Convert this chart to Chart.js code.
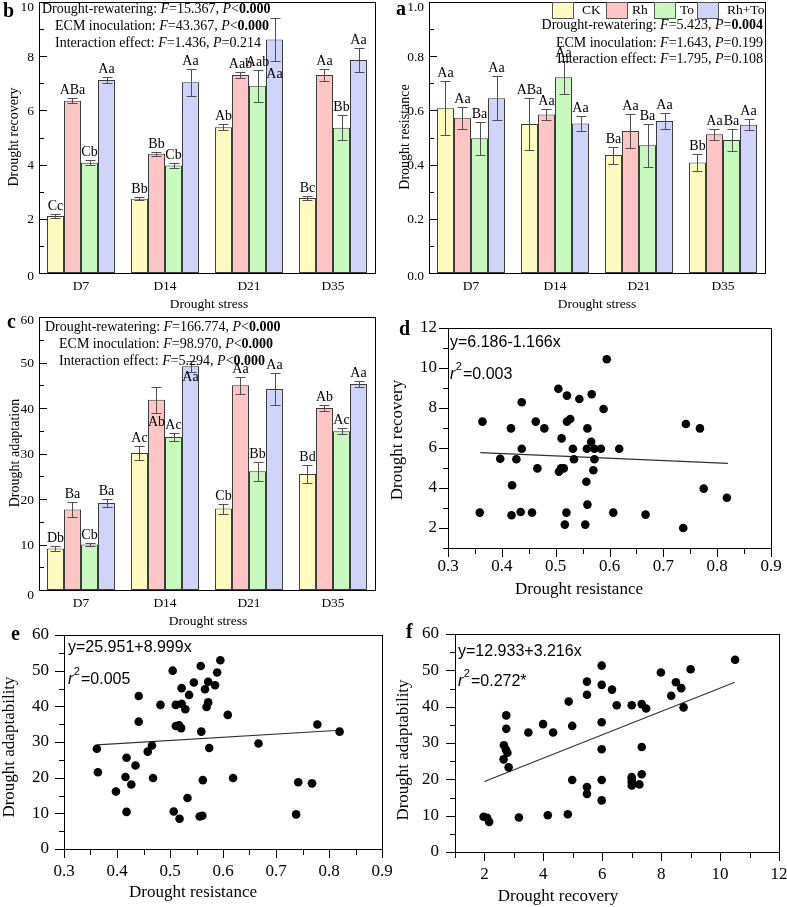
<!DOCTYPE html>
<html><head><meta charset="utf-8">
<script src="https://cdn.jsdelivr.net/npm/chart.js@4.4.1/dist/chart.umd.min.js"></script>
<style>html,body{margin:0;padding:0;background:#fff;}body{width:787px;height:907px;position:relative;overflow:hidden;}canvas{position:absolute;left:0;top:0;}</style>
</head><body>
<script>
// ---------------- DATA ----------------
const categories = ['D7','D14','D21','D35'];
const treatments = ['CK','Rh','To','Rh+To'];

// Panel b: drought recovery (means, SE, letters) per treatment across D7..D35
const recCK   = [2.10, 2.74, 5.38, 2.77];
const recRh   = [6.36, 4.40, 7.31, 7.31];
const recTo   = [4.07, 3.97, 6.91, 5.36];
const recRhTo = [7.12, 7.04, 8.62, 7.86];
const recErrCK   = [0.07, 0.05, 0.12, 0.06];
const recErrRh   = [0.08, 0.08, 0.10, 0.21];
const recErrTo   = [0.10, 0.10, 0.59, 0.47];
const recErrRhTo = [0.12, 0.50, 0.80, 0.43];
const recLetCK   = ['Cc','Bb','Ab','Bc'];
const recLetRh   = ['ABa','Bb','Aab','Aa'];
const recLetTo   = ['Cb','Cb','Aab','Bb'];
const recLetRhTo = ['Aa','Aa','Aa','Aa'];
const recYTicks  = ['0','2','4','6','8','10'];

// Panel a: drought resistance
const resCK   = [0.608, 0.550, 0.435, 0.408];
const resRh   = [0.573, 0.585, 0.524, 0.512];
const resTo   = [0.497, 0.722, 0.471, 0.491];
const resRhTo = [0.645, 0.552, 0.561, 0.547];
const resErrCK   = [0.100, 0.097, 0.031, 0.030];
const resErrRh   = [0.040, 0.022, 0.062, 0.020];
const resErrTo   = [0.060, 0.062, 0.080, 0.040];
const resErrRhTo = [0.081, 0.029, 0.031, 0.020];
const resLetCK   = ['Aa','ABa','Ba','Bb'];
const resLetRh   = ['Aa','Aa','Aa','Aa'];
const resLetTo   = ['Ba','Aa','Ba','Ba'];
const resLetRhTo = ['Aa','Aa','Aa','Aa'];
const resYTicks  = ['0.0','0.2','0.4','0.6','0.8','1.0'];

// Panel c: drought adaptation
const adaCK   = [9.1, 30.1, 17.9, 25.5];
const adaRh   = [17.7, 41.8, 45.0, 40.0];
const adaTo   = [10.0, 33.6, 26.1, 34.9];
const adaRhTo = [19.1, 49.2, 44.2, 45.3];
const adaErrCK   = [0.5, 1.6, 1.1, 1.9];
const adaErrRh   = [1.6, 2.8, 1.9, 0.6];
const adaErrTo   = [0.4, 0.9, 2.1, 0.6];
const adaErrRhTo = [0.8, 1.2, 3.5, 0.7];
const adaLetCK   = ['Db','Ac','Cb','Bd'];
const adaLetRh   = ['Ba','Ab','Aa','Ab'];
const adaLetTo   = ['Cb','Ac','Bb','Ac'];
const adaLetRhTo = ['Ba','Aa','Aa','Aa'];
const adaYTicks  = ['0','10','20','30','40','50','60'];

// Panel d: resistance (x) vs recovery (y)
const dX = [0.359,0.364,0.397,0.417,0.419,0.418,0.427,0.435,0.437,0.437,0.456,0.463,0.466,0.479,0.505,0.506,0.511,0.510,0.515,0.517,0.520,0.521,0.521,0.527,0.532,0.534,0.544,0.555,0.557,0.558,0.559,0.559,0.566,0.567,0.570,0.572,0.572,0.584,0.589,0.595,0.607,0.618,0.667,0.737,0.742,0.768,0.775,0.818];
const dY = [2.77,7.32,5.46,6.98,4.14,2.64,5.44,2.80,8.29,5.96,2.77,7.32,4.98,6.98,8.96,4.81,6.48,4.98,4.98,2.17,2.77,8.62,7.32,7.45,5.96,5.44,8.45,2.17,4.31,5.96,3.17,6.98,6.31,8.69,4.89,5.44,5.96,5.96,7.95,10.44,2.77,5.96,2.67,2.00,7.20,6.98,3.97,3.51];
const dFitX = [0.36, 0.82];
const dFitY = [5.77, 5.23];

// Panel e: resistance (x) vs adaptability (y)
const eX = [0.362,0.364,0.398,0.416,0.418,0.418,0.427,0.435,0.441,0.441,0.458,0.466,0.468,0.482,0.505,0.507,0.511,0.511,0.517,0.518,0.521,0.522,0.522,0.529,0.536,0.533,0.545,0.556,0.558,0.559,0.561,0.562,0.566,0.569,0.572,0.572,0.574,0.585,0.589,0.595,0.609,0.619,0.667,0.738,0.742,0.768,0.778,0.820];
const eY = [28.1,21.5,16.1,20.2,25.6,10.4,18.1,23.4,42.9,35.7,27.3,29.0,19.9,40.4,50.0,10.5,34.5,40.4,34.7,8.5,33.9,45.1,40.7,39.2,43.2,14.3,46.7,9.1,51.3,32.9,9.3,19.3,44.8,39.8,41.1,46.9,28.3,45.9,49.5,52.9,37.6,19.9,29.6,9.7,18.7,18.4,34.9,32.9];
const eFitX = [0.362, 0.82];
const eFitY = [29.2, 33.3];

// Panel f: recovery (x) vs adaptability (y)
const fX = [1.97,2.09,2.16,2.65,2.66,2.73,2.74,2.74,2.78,2.82,3.17,3.49,3.99,4.15,4.33,4.83,4.86,4.98,4.98,5.48,5.48,5.48,5.48,5.98,5.98,5.98,5.98,5.98,5.98,6.33,6.49,7.00,7.00,7.00,7.00,7.00,7.26,7.34,7.34,7.34,7.49,7.99,8.34,8.50,8.68,8.76,9.00,10.51];
const fY = [9.7,9.4,8.3,25.5,29.4,28.1,37.6,33.9,27.3,23.3,9.5,32.9,35.2,10.1,32.9,10.4,41.4,34.7,19.8,43.3,46.9,17.9,16.0,51.3,46.0,35.7,28.3,19.8,14.2,44.7,40.4,40.4,20.6,20.1,19.3,18.3,18.6,40.7,28.9,21.4,39.5,49.4,43.0,46.7,45.1,39.8,50.3,52.9];
const fFitX = [2.0, 10.5];
const fFitY = [19.4, 46.7];

// ---------------- DRAWING HELPERS ----------------
const SERIF = '"Liberation Serif","Times New Roman",serif';
const SANS = '"Liberation Sans",Arial,sans-serif';
const FILLS = ['#FFFAC0','#FFC4C4','#C8FAC0','#D0D4FA'];
const EDGE = '#3c3c3c';
const W = 787, H = 907;

function newCanvas(){const c=document.createElement('canvas');c.width=W;c.height=H;c.style.width=W+'px';c.style.height=H+'px';document.body.appendChild(c);return c;}
function pad(a){return {left:a.l,top:a.t,right:W-a.r,bottom:H-a.b};}
function sf(size,style){return (style?style+' ':'')+size+'px '+SERIF;}
function text(ctx,s,x,y,f,align,base){ctx.font=f;ctx.textAlign=align||'center';ctx.textBaseline=base||'middle';ctx.fillStyle='#000';ctx.fillText(s,x,y);}
function vtext(ctx,s,x,y,f){ctx.save();ctx.translate(x,y);ctx.rotate(-Math.PI/2);text(ctx,s,0,0,f,'center','middle');ctx.restore();}
function rich(ctx,segs,x,y,size,align){
  const fo=s=>(s==='i'?'italic ':s==='b'?'bold ':'')+size+'px '+SERIF;
  let total=0;segs.forEach(([t,s])=>{ctx.font=fo(s);total+=ctx.measureText(t).width;});
  let cx=align==='right'?x-total:x;
  ctx.textAlign='left';ctx.textBaseline='middle';ctx.fillStyle='#000';
  segs.forEach(([t,s])=>{ctx.font=fo(s);ctx.fillText(t,cx,y);cx+=ctx.measureText(t).width;});
}
function frame(ctx,a){ctx.strokeStyle='#000';ctx.lineWidth=1;ctx.strokeRect(a.l+0.5,a.t+0.5,a.r-a.l,a.b-a.t);}
function range(min,max,step){const out=[];for(let v=min;v<=max+1e-9;v+=step)out.push(+v.toFixed(6));return out;}
function yTickMarks(ctx,scale,x0,vals,len){ctx.beginPath();vals.forEach(v=>{const y=Math.round(scale.getPixelForValue(v))+0.5;ctx.moveTo(x0,y);ctx.lineTo(x0+len,y);});ctx.stroke();}
function xTickMarks(ctx,scale,y0,vals,len){ctx.beginPath();vals.forEach(v=>{const x=Math.round(scale.getPixelForValue(v))+0.5;ctx.moveTo(x,y0);ctx.lineTo(x,y0+len);});ctx.stroke();}

// ---------------- BAR PANELS ----------------
function barPanel(p){
  const c=newCanvas();
  new Chart(c,{type:'bar',
    data:{labels:categories,datasets:p.values.map((v,i)=>({label:treatments[i],data:v,backgroundColor:FILLS[i],borderColor:EDGE,borderWidth:1,borderSkipped:false,categoryPercentage:0.81,barPercentage:1}))},
    options:{responsive:false,animation:false,devicePixelRatio:1,events:[],layout:{padding:pad(p.area)},
      plugins:{legend:{display:false},tooltip:{enabled:false}},
      scales:{x:{display:false},y:{display:false,min:0,max:p.max}}},
    plugins:[{id:'deco',afterDraw(chart){
      const ctx=chart.ctx,a=p.area,ys=chart.scales.y,xs=chart.scales.x;
      ctx.save();
      // error bars & letters
      p.values.forEach((vals,i)=>{const meta=chart.getDatasetMeta(i);vals.forEach((v,j)=>{
        const e=p.errs[i][j],bar=meta.data[j];
        const x=Math.round(bar.x)+0.5;
        const yt=Math.round(ys.getPixelForValue(v+e))+0.5,yb=Math.round(ys.getPixelForValue(v-e))+0.5;
        ctx.strokeStyle='#505050';ctx.lineWidth=1;ctx.beginPath();
        ctx.moveTo(x,yt);ctx.lineTo(x,yb);ctx.moveTo(x-5,yt);ctx.lineTo(x+5,yt);ctx.moveTo(x-5,yb);ctx.lineTo(x+5,yb);ctx.stroke();
        const key=i+','+j;
        if(p.letterCenter&&p.letterCenter[key]!==undefined){text(ctx,p.letters[i][j],bar.x,ys.getPixelForValue(p.letterCenter[key]),sf(14),'center','middle');}
        else{text(ctx,p.letters[i][j],bar.x,ys.getPixelForValue(v+e)-4,sf(14),'center','alphabetic');}
      });});
      frame(ctx,a);
      ctx.strokeStyle='#000';ctx.lineWidth=1;
      const maj=range(0,p.max,p.step),min=range(p.step/2,p.max,p.step);
      yTickMarks(ctx,ys,a.l+1,maj,7);yTickMarks(ctx,ys,a.l+1,min,4);
      maj.forEach((v,k)=>text(ctx,p.yLabels[k],a.l-5,ys.getPixelForValue(v)+p.labelShift[k],sf(13.5),'right','middle'));
      categories.forEach((cat,j)=>text(ctx,cat,xs.getPixelForValue(j),a.b+13,sf(13.5),'center','middle'));
      vtext(ctx,p.yTitle,p.yTitlePos[0],p.yTitlePos[1],sf(14));
      text(ctx,'Drought stress',p.xTitlePos[0],p.xTitlePos[1],sf(13.5),'center','middle');
      text(ctx,p.tag,p.tagPos[0],p.tagPos[1],sf(20,'bold'),'left','alphabetic');
      p.extra(ctx);
      ctx.restore();
    }}]});
}

// ---------------- SCATTER PANELS ----------------
function scatterPanel(p){
  const c=newCanvas();
  new Chart(c,{type:'scatter',
    data:{datasets:[
      {data:p.xs.map((x,i)=>({x,y:p.ys[i]})),pointRadius:4.3,pointBackgroundColor:'#000',pointBorderWidth:0,borderWidth:0,showLine:false},
      {type:'line',data:p.lx.map((x,i)=>({x,y:p.ly[i]})),borderColor:'#303030',borderWidth:1.1,pointRadius:0,fill:false,tension:0}
    ]},
    options:{responsive:false,animation:false,devicePixelRatio:1,events:[],layout:{padding:pad(p.area)},
      plugins:{legend:{display:false},tooltip:{enabled:false}},
      scales:{x:{type:'linear',display:false,min:p.xmin,max:p.xmax},y:{type:'linear',display:false,min:p.ymin,max:p.ymax}}},
    plugins:[{id:'deco',afterDraw(chart){
      const ctx=chart.ctx,a=p.area,xs=chart.scales.x,ys=chart.scales.y;
      ctx.save();
      frame(ctx,a);
      ctx.strokeStyle='#000';ctx.lineWidth=1;
      yTickMarks(ctx,ys,a.l,p.yMaj,-9);yTickMarks(ctx,ys,a.l,p.yMin,-5);
      xTickMarks(ctx,xs,a.b+1,p.xMaj,8);xTickMarks(ctx,xs,a.b+1,p.xMin,5);
      p.yLab.forEach(([v,s])=>text(ctx,s,a.l-p.yPad,ys.getPixelForValue(v),sf(17),'right','middle'));
      p.xLab.forEach(([v,s])=>text(ctx,s,xs.getPixelForValue(v),a.b+p.xPad,sf(17),'center','middle'));
      vtext(ctx,p.yTitle,p.yTitlePos[0],p.yTitlePos[1],sf(17));
      text(ctx,p.xTitle,p.xTitlePos[0],p.xTitlePos[1],sf(17),'center','middle');
      text(ctx,p.tag,p.tagPos[0],p.tagPos[1],sf(20,'bold'),'left','alphabetic');
      // equation
      const ex=p.eqPos[0];
      ctx.fillStyle='#000';ctx.textAlign='left';ctx.textBaseline='middle';
      ctx.font='16px '+SANS;ctx.fillText(p.eq,ex,p.eqPos[1]);
      ctx.font='italic 16px '+SANS;ctx.fillText('r',ex,p.eqPos[2]);const w1=ctx.measureText('r').width;
      ctx.font='11px '+SANS;ctx.fillText('2',ex+w1+0.5,p.eqPos[2]-8);const w2=ctx.measureText('2').width;
      ctx.font='16px '+SANS;ctx.fillText(p.r2,ex+w1+w2+1.5,p.eqPos[2]);
      ctx.restore();
    }}]});
}

// ---------------- PANELS ----------------
barPanel({tag:'b',tagPos:[3,17],area:{l:39,r:375,t:2,b:273},max:10,step:2,yLabels:recYTicks,labelShift:[3,1,1,1,1,5],
  values:[recCK,recRh,recTo,recRhTo],errs:[recErrCK,recErrRh,recErrTo,recErrRhTo],letters:[recLetCK,recLetRh,recLetTo,recLetRhTo],
  letterCenter:{'3,2':7.34},
  yTitle:'Drought recovery',yTitlePos:[14,137],xTitlePos:[209,304],
  extra(ctx){
    rich(ctx,[['Drought-rewatering: ',''],['F','i'],['=15.367, ',''],['P','i'],['<',''],['0.000','b']],42,9,14,'left');
    rich(ctx,[['ECM inoculation: ',''],['F','i'],['=43.367, ',''],['P','i'],['<',''],['0.000','b']],55,26,14,'left');
    rich(ctx,[['Interaction effect: ',''],['F','i'],['=1.436, ',''],['P','i'],['=0.214','']],55,43,14,'left');
  }});

barPanel({tag:'a',tagPos:[396,15],area:{l:429,r:765,t:2,b:273},max:1,step:0.2,yLabels:resYTicks,labelShift:[3,1,1,1,1,5],
  values:[resCK,resRh,resTo,resRhTo],errs:[resErrCK,resErrRh,resErrTo,resErrRhTo],letters:[resLetCK,resLetRh,resLetTo,resLetRhTo],
  yTitle:'Drought resistance',yTitlePos:[405,137],xTitlePos:[597,304],
  extra(ctx){
    const bx=[552,606,654,697],tx=[582,632,680,727];
    treatments.forEach((t,i)=>{ctx.fillStyle=FILLS[i];ctx.fillRect(bx[i],2,21,16);ctx.strokeStyle='#555';ctx.lineWidth=1;ctx.strokeRect(bx[i]+0.5,2.5,21,16);
      text(ctx,t,tx[i],10.5,sf(13.5),'left','middle');});
    rich(ctx,[['Drought-rewatering: ',''],['F','i'],['=5.423, ',''],['P','i'],['=',''],['0.004','b']],763,25,14,'right');
    rich(ctx,[['ECM inoculation: ',''],['F','i'],['=1.643, ',''],['P','i'],['=0.199','']],763,43,14,'right');
    rich(ctx,[['Interaction effect: ',''],['F','i'],['=1.795, ',''],['P','i'],['=0.108','']],763,59,14,'right');
  }});

barPanel({tag:'c',tagPos:[7,328],area:{l:39,r:375,t:317,b:590},max:60,step:10,yLabels:adaYTicks,labelShift:[5,1,1,1,1,1,3],
  values:[adaCK,adaRh,adaTo,adaRhTo],errs:[adaErrCK,adaErrRh,adaErrTo,adaErrRhTo],letters:[adaLetCK,adaLetRh,adaLetTo,adaLetRhTo],
  letterCenter:{'1,1':36.9,'3,1':46.8},
  yTitle:'Drought adaptation',yTitlePos:[15,453],xTitlePos:[208,621],
  extra(ctx){
    rich(ctx,[['Drought-rewatering: ',''],['F','i'],['=166.774, ',''],['P','i'],['<',''],['0.000','b']],45,327,14,'left');
    rich(ctx,[['ECM inoculation: ',''],['F','i'],['=98.970, ',''],['P','i'],['<',''],['0.000','b']],59,344,14,'left');
    rich(ctx,[['Interaction effect: ',''],['F','i'],['=5.294, ',''],['P','i'],['<',''],['0.000','b']],59,361,14,'left');
  }});

scatterPanel({tag:'d',tagPos:[399,335],area:{l:448,r:771,t:328,b:548},xmin:0.3,xmax:0.9,ymin:1,ymax:12,
  xs:dX,ys:dY,lx:dFitX,ly:dFitY,
  yMaj:[2,4,6,8,10,12],yMin:[1,3,5,7,9,11],xMaj:range(0.3,0.9,0.1),xMin:range(0.35,0.85,0.1),
  yLab:[[2,'2'],[4,'4'],[6,'6'],[8,'8'],[10,'10'],[12,'12']],yPad:11,
  xLab:[[0.3,'0.3'],[0.4,'0.4'],[0.5,'0.5'],[0.6,'0.6'],[0.7,'0.7'],[0.8,'0.8'],[0.9,'0.9']],xPad:19,
  yTitle:'Drought recovery',yTitlePos:[398,440],xTitle:'Drought resistance',xTitlePos:[579,590],
  eq:'y=6.186-1.166x',r2:'=0.003',eqPos:[450,343,375]});

scatterPanel({tag:'e',tagPos:[11,640],area:{l:64,r:382,t:635,b:849},xmin:0.3,xmax:0.9,ymin:0,ymax:60,
  xs:eX,ys:eY,lx:eFitX,ly:eFitY,
  yMaj:range(0,60,10),yMin:range(5,55,10),xMaj:range(0.3,0.9,0.1),xMin:range(0.35,0.85,0.1),
  yLab:[[0,'0'],[10,'10'],[20,'20'],[30,'30'],[40,'40'],[50,'50'],[60,'60']],yPad:15,
  xLab:[[0.3,'0.3'],[0.4,'0.4'],[0.5,'0.5'],[0.6,'0.6'],[0.7,'0.7'],[0.8,'0.8'],[0.9,'0.9']],xPad:23,
  yTitle:'Drought adaptability',yTitlePos:[10,747],xTitle:'Drought resistance',xTitlePos:[193,893],
  eq:'y=25.951+8.999x',r2:'=0.005',eqPos:[68,648,680]});

scatterPanel({tag:'f',tagPos:[406,638],area:{l:455,r:779,t:634,b:852},xmin:1,xmax:12,ymin:0,ymax:60,
  xs:fX,ys:fY,lx:fFitX,ly:fFitY,
  yMaj:range(0,60,10),yMin:range(5,55,10),xMaj:range(2,12,2),xMin:range(1,11,2),
  yLab:[[0,'0'],[10,'10'],[20,'20'],[30,'30'],[40,'40'],[50,'50'],[60,'60']],yPad:16,
  xLab:[[2,'2'],[4,'4'],[6,'6'],[8,'8'],[10,'10'],[12,'12']],xPad:23,
  yTitle:'Drought adaptability',yTitlePos:[404,750],xTitle:'Drought recovery',xTitlePos:[558,897],
  eq:'y=12.933+3.216x',r2:'=0.272*',eqPos:[458,652,682]});
</script>
</body></html>
